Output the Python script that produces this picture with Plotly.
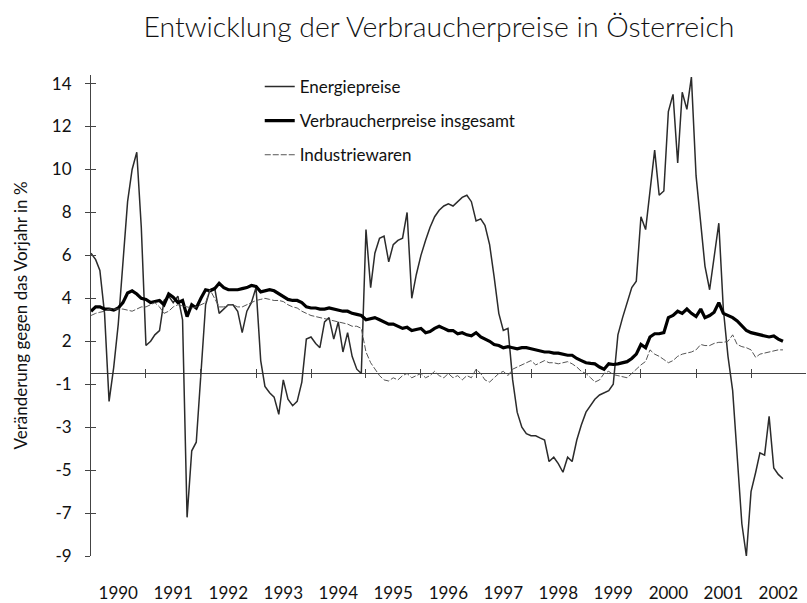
import pandas as pd
import plotly.graph_objects as go

# ---- data (monthly, Jan 1990 - Aug 2002), % change vs previous year ----
energie = [
    5.6, 5.3, 4.8, 2.8, -1.3, 0.3, 2.3, 5.0, 8.0, 9.5, 10.3, 6.8,
    1.3, 1.5, 1.8, 2.0, 3.4, 3.6, 3.3, 3.6, 2.5, -6.7, -3.6, -3.2,
    0.2, 3.2, 3.9, 4.0, 2.8, 3.0, 3.2, 3.2, 2.9, 1.9, 2.9, 3.3,
    4.0, 0.6, -0.6, -0.9, -1.1, -1.9, -0.3, -1.2, -1.5, -1.3, -0.4, 1.6,
    1.7, 1.4, 1.2, 2.4, 2.6, 1.6, 2.4, 1.0, 1.9, 0.8, 0.2, 0.0,
    6.7, 4.0, 5.6, 6.3, 6.4, 5.2, 6.0, 6.2, 6.3, 7.5, 3.5, 4.6,
    5.5, 6.2, 6.8, 7.3, 7.6, 7.8, 7.9, 7.8, 8.0, 8.2, 8.3, 8.0,
    7.1, 7.2, 6.9, 6.0, 4.5, 2.8, 2.0, 2.1, -0.3, -1.8, -2.5, -2.8,
    -2.9, -2.9, -3.0, -3.1, -4.1, -3.9, -4.2, -4.6, -3.9, -4.1, -3.1, -2.4,
    -1.8, -1.5, -1.2, -1.0, -0.9, -0.8, -0.5, 1.8, 2.6, 3.3, 4.0, 4.3,
    7.3, 6.7, 8.4, 10.4, 8.3, 8.5, 12.2, 13.0, 9.8, 13.1, 12.3, 13.8,
    9.2, 6.8, 5.0, 3.9, 5.5, 7.0, 3.0, 0.8, -0.8, -4.0, -7.0, -8.5,
    -5.5, -4.6, -3.7, -3.8, -2.0, -4.4, -4.7, -4.9,
]
insgesamt = [
    2.9, 3.1, 3.1, 3.0, 3.0, 2.95, 3.05, 3.3, 3.75, 3.85, 3.7, 3.5,
    3.45, 3.3, 3.35, 3.4, 3.2, 3.7, 3.55, 3.3, 3.4, 2.65, 3.2, 3.05,
    3.5, 3.9, 3.85, 3.95, 4.2, 4.0, 3.9, 3.9, 3.9, 3.95, 4.0, 4.1,
    4.05, 3.8, 3.85, 3.9, 3.85, 3.7, 3.6, 3.45, 3.4, 3.4, 3.3, 3.1,
    3.05, 3.05, 3.0, 3.0, 3.05, 3.0, 2.95, 2.9, 2.9, 2.8, 2.75, 2.7,
    2.5, 2.55, 2.6, 2.5, 2.4, 2.3, 2.3, 2.2, 2.1, 2.15, 2.0, 2.05,
    2.1, 1.9, 1.95, 2.1, 2.2, 2.1, 2.0, 2.0, 1.85, 1.9, 1.8, 1.75,
    1.9, 1.7, 1.6, 1.5, 1.35, 1.3, 1.2, 1.25, 1.2, 1.15, 1.2, 1.2,
    1.15, 1.1, 1.05, 1.0, 1.0, 0.95, 0.95, 0.9, 0.85, 0.85, 0.7, 0.6,
    0.5, 0.47, 0.45, 0.3, 0.2, 0.45, 0.42, 0.45, 0.5, 0.55, 0.7, 0.9,
    1.35, 1.2, 1.7, 1.85, 1.85, 1.9, 2.6, 2.7, 2.9, 2.8, 3.0, 2.8,
    2.65, 3.0, 2.6, 2.7, 2.85, 3.3, 2.8, 2.7, 2.6, 2.45, 2.2, 2.0,
    1.9, 1.85, 1.8, 1.75, 1.7, 1.75, 1.6, 1.5,
]
industrie = [
    2.7, 2.8, 2.85, 2.9, 3.0, 3.0, 3.0, 3.0, 2.95, 2.9, 3.0, 3.1,
    3.1, 3.2, 3.3, 3.1, 2.8, 2.9, 3.1, 3.2, 3.15, 3.1, 3.05, 3.1,
    3.2, 3.3, 3.9, 3.5, 3.1, 3.1, 3.2, 3.2, 3.1, 3.1, 3.2, 3.3,
    3.4, 3.45, 3.5, 3.45, 3.4, 3.4, 3.35, 3.2, 3.1, 3.05, 2.9, 2.8,
    2.7, 2.65, 2.6, 2.55, 2.5, 2.45, 2.4, 2.35, 2.3, 2.2, 2.2, 2.1,
    1.0, 0.5, 0.2, -0.1, -0.3, -0.35, -0.2, -0.3, -0.1, 0.0, -0.2, -0.1,
    0.0, -0.2, -0.1, 0.1, -0.1, -0.2, 0.0, -0.2, -0.1, -0.3, -0.1, -0.2,
    0.2, 0.0, -0.3, -0.4, -0.2, 0.0, 0.1, -0.1, 0.2, 0.3, 0.4, 0.5,
    0.6, 0.4, 0.5, 0.6, 0.5, 0.5, 0.45, 0.5, 0.55, 0.45, 0.3, 0.1,
    0.0, -0.2, -0.4, -0.3, 0.0, 0.1, -0.05, -0.1, -0.15, -0.2, 0.0, 0.2,
    0.4, 0.56, 1.1, 0.9, 0.8, 0.65, 0.5, 0.6, 0.8, 0.9, 0.95, 1.0,
    1.1, 1.35, 1.3, 1.3, 1.4, 1.45, 1.45, 1.5, 1.8, 1.35, 1.25, 1.2,
    1.1, 0.75, 0.9, 0.95, 1.0, 1.05, 1.1, 1.1,
]
jahre = list(range(1990, 2003))
y_tick_vals = [13.5, 11.5, 9.5, 7.5, 5.5, 3.5, 1.5, -0.5, -2.5, -4.5, -6.5, -8.5]
y_tick_text = ["14", "12", "10", "8", "6", "4", "2", "-1", "-3", "-5", "-7", "-9"]

datum = pd.date_range("1990-01-01", periods=len(energie), freq="MS")
FONT = "Lato"
Y_RANGE = [-8.5, 13.9]
X_RANGE = ["1990-01-01", "2003-01-01"]

fig = go.Figure()
fig.add_trace(go.Scatter(x=datum, y=energie, mode="lines", name="Energiepreise",
                         legendgroup="a", line=dict(color="#2b2b2b", width=1.5)))
fig.add_trace(go.Scatter(x=datum, y=insgesamt, mode="lines", name="Verbraucherpreise insgesamt",
                         legendgroup="b", line=dict(color="#000000", width=3.2)))
fig.add_trace(go.Scatter(x=datum, y=industrie, mode="lines", name="Industriewaren",
                         legendgroup="c", line=dict(color="#555555", width=1, dash="6px,2px")))

zero_pos = (0 - Y_RANGE[0]) / (Y_RANGE[1] - Y_RANGE[0])
year_mid = [f"{j}-07-01" for j in jahre]
year_start = [f"{j}-01-01" for j in jahre[1:]]

fig.update_layout(
    width=807, height=603,
    paper_bgcolor="white", plot_bgcolor="white",
    margin=dict(l=91, r=1, t=75, b=47, autoexpand=False),
    font=dict(family=FONT, size=17, color="#111111"),
    title=dict(text="Entwicklung der Verbraucherpreise in Österreich",
               x=0.544, xref="container", xanchor="center",
               y=0.955, yref="container", yanchor="middle",
               font=dict(family=FONT, size=28.4, weight=300, color="#111111")),
    showlegend=True,
    legend=dict(x=0.236, y=1.0125, xanchor="left", yanchor="top",
                bgcolor="rgba(0,0,0,0)", tracegroupgap=9,
                font=dict(family=FONT, size=17, color="#111111")),
    xaxis=dict(range=X_RANGE, type="date", showgrid=False, zeroline=False, showline=False,
               tickmode="array", tickvals=year_mid, ticktext=[str(j) for j in jahre],
               ticks="", ticklabelstandoff=25, tickfont=dict(size=17)),
    xaxis2=dict(range=X_RANGE, type="date", overlaying="x", anchor="free", position=zero_pos,
                showgrid=False, zeroline=False, showline=False, showticklabels=False,
                tickmode="array", tickvals=year_start, ticks="outside", ticklen=4,
                tickcolor="#444444"),
    xaxis3=dict(range=X_RANGE, type="date", overlaying="x", anchor="free", position=zero_pos,
                showgrid=False, zeroline=False, showline=False, showticklabels=False,
                tickmode="array", tickvals=year_start, ticks="inside", ticklen=4,
                tickcolor="#444444"),
    yaxis=dict(range=Y_RANGE, showgrid=False, zeroline=True, zerolinecolor="#444444",
               zerolinewidth=1, showline=True, linecolor="#444444", linewidth=1,
               tickmode="array", tickvals=y_tick_vals, ticktext=y_tick_text,
               ticks="outside", ticklen=5, tickcolor="#444444", ticklabelstandoff=10,
               tickfont=dict(size=17),
               title=dict(text="Veränderung gegen das Vorjahr in %", standoff=19,
                          font=dict(size=17))),
    yaxis2=dict(range=Y_RANGE, overlaying="y", anchor="x", side="left", showgrid=False,
                zeroline=False, showline=False, showticklabels=False,
                tickmode="array", tickvals=y_tick_vals, ticks="inside", ticklen=5,
                tickcolor="#444444"),
)
# invisible helper traces so the overlay axes are drawn
fig.add_trace(go.Scatter(x=[datum[0]], y=[None], xaxis="x2", yaxis="y2", showlegend=False,
                         hoverinfo="skip"))
fig.add_trace(go.Scatter(x=[datum[0]], y=[None], xaxis="x3", yaxis="y2", showlegend=False,
                         hoverinfo="skip"))

fig.write_html("out.html", config={"displayModeBar": False},
               post_script="document.body.style.margin='0';document.body.style.padding='0';")
